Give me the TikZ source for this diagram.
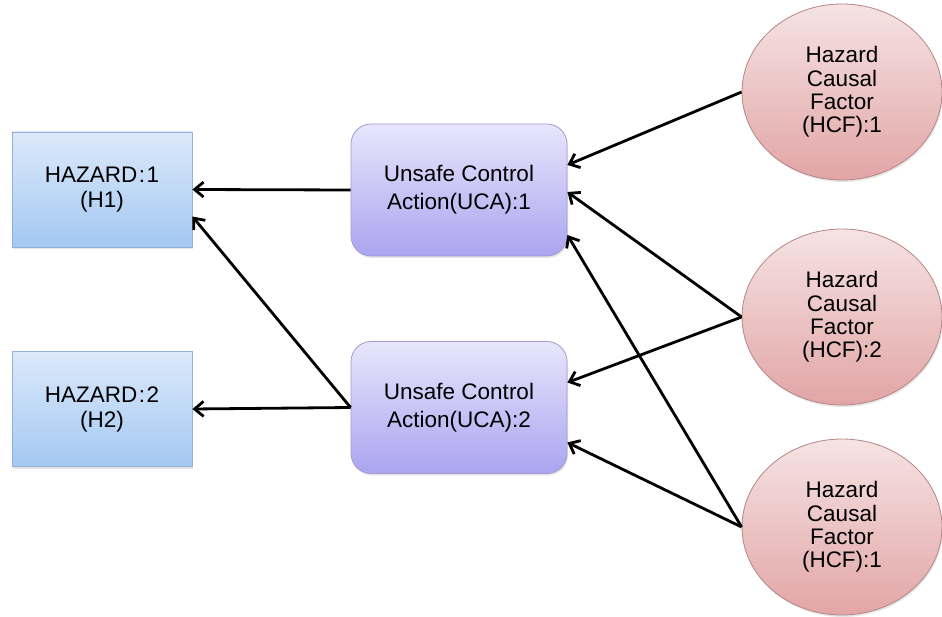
\documentclass[tikz,border=0pt]{standalone}
\usepackage{fontspec}
\setmainfont{Liberation Sans}
\usetikzlibrary{shapes.geometric,arrows.meta,calc,shadows}
\definecolor{hTop}{HTML}{DCE9FA}
\definecolor{hBot}{HTML}{A3C8F2}
\definecolor{hBrd}{HTML}{93B1D6}
\definecolor{uTop}{HTML}{E8E6FC}
\definecolor{uBot}{HTML}{ABA4F0}
\definecolor{uBrd}{HTML}{A29CD0}
\definecolor{cTop}{HTML}{F6E3E3}
\definecolor{cBot}{HTML}{E2A5A6}
\definecolor{cBrd}{HTML}{B68585}
\tikzset{
  hazbox/.style={draw=hBrd, line width=0.8pt, top color=hTop, bottom color=hBot,
    minimum width=180pt, minimum height=115pt, inner sep=0pt, align=center,
    font=\fontsize{22.5}{25}\selectfont,
    drop shadow={opacity=0.2, shadow xshift=1pt, shadow yshift=-2pt}},
  ucabox/.style={draw=uBrd, line width=0.8pt, top color=uTop, bottom color=uBot,
    rounded corners=20pt, minimum width=216pt, minimum height=132pt, inner sep=0pt,
    align=center, font=\fontsize{22.5}{28}\selectfont,
    drop shadow={opacity=0.2, shadow xshift=1pt, shadow yshift=-2pt}},
  hcfell/.style={ellipse, draw=cBrd, line width=0.8pt, top color=cTop, bottom color=cBot,
    minimum width=200pt, minimum height=176pt, inner sep=0pt, align=center,
    font=\fontsize{22.5}{23.4}\selectfont,
    drop shadow={opacity=0.2, shadow xshift=1pt, shadow yshift=-2pt}},
  link/.style={line width=2.8pt, -{Straight Barb[length=9pt,width=15pt,line width=2.8pt]}}
}
\begin{document}
\begin{tikzpicture}[x=1pt,y=-1pt]
\useasboundingbox (0,0) rectangle (942,617);
\node[hazbox] (h1) at (102,189.5) {HAZARD\kern1.5pt:\kern1.5pt1\\(H1)};
\node[hazbox] (h2) at (102,409) {HAZARD\kern1.5pt:\kern1.5pt2\\(H2)};
\node[ucabox] (u1) at (459,190) {Unsafe Control\\Action(UCA):1};
\node[ucabox] (u2) at (459,407.5) {Unsafe Control\\Action(UCA):2};
\node[hcfell] (c1) at (842,92) {Hazard\\Causal\\Factor\\(HCF):1};
\node[hcfell] (c2) at (842,317) {Hazard\\Causal\\Factor\\(HCF):2};
\node[hcfell] (c3) at (842,527) {Hazard\\Causal\\Factor\\(HCF):1};
\draw[link] (u1.west) -- (h1.east);
\draw[link] (u2.west) -- (h2.east);
\draw[link] (u2.west) -- ($(h1.east)+(0,27)$);
\draw[link] (c1.west) -- ($(u1.east)+(0,-25)$);
\draw[link] (c2.west) -- ($(u1.east)+(0,2)$);
\draw[link] (c2.west) -- ($(u2.east)+(0,-25)$);
\draw[link] (c3.west) -- ($(u1.east)+(0,45)$);
\draw[link] (c3.west) -- ($(u2.east)+(0,35)$);
\end{tikzpicture}
\end{document}
